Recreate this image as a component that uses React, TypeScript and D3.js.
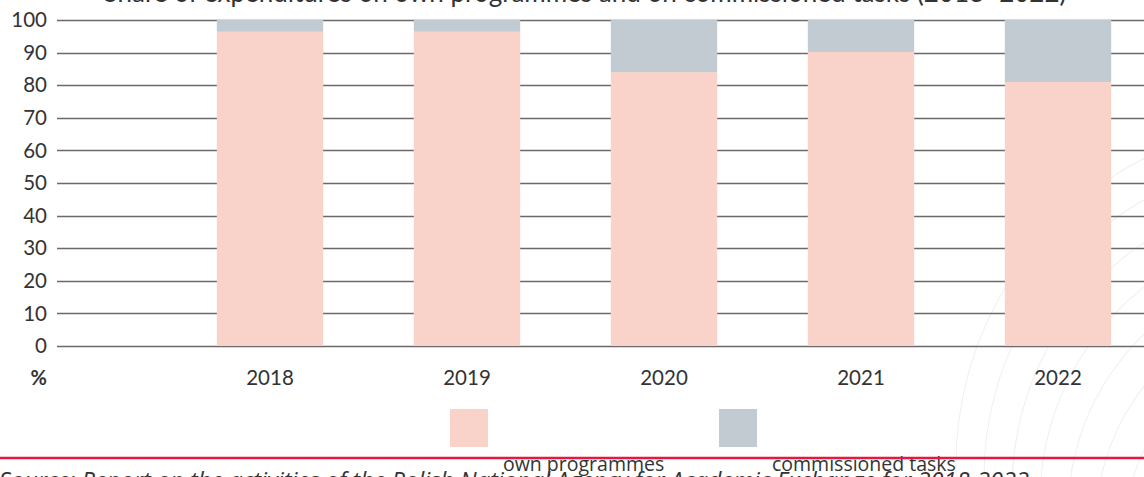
import * as d3 from 'd3';
import { useEffect, useRef } from 'react';

// chart data
const years = ['2018', '2019', '2020', '2021', '2022'];
const ownProgrammes = [96.4, 96.4, 84.0, 90.2, 81.0];
const commissionedTasks = [3.6, 3.6, 16.0, 9.8, 19.0];
const seriesNames = ['own programmes', 'commissioned tasks'];
const seriesColors = ['#f9d3ca', '#c1cbd1'];
const yTicks = [0, 10, 20, 30, 40, 50, 60, 70, 80, 90, 100];

const title = 'Share of expenditures on own programmes and on commissioned tasks (2018–2022)';
const source = 'Source: Report on the activities of the Polish National Agency for Academic Exchange for 2018-2022';

const W = 1144;
const H = 477;

const App = () => {
  const svgRef = useRef<SVGSVGElement>(null);

  useEffect(() => {
    const svg = d3.select(svgRef.current);
    svg.selectAll('*').remove();

    // faint background contour decoration on the right
    const deco = svg.append('g').attr('fill', 'none').attr('stroke', '#efefef').attr('stroke-width', 1);
    d3.range(7).forEach(i => {
      const r = 200 + i * 24;
      deco.append('path')
        .attr('d', d3.arc()({ innerRadius: r, outerRadius: r, startAngle: Math.PI * 0.05, endAngle: Math.PI * 0.95 }) as string)
        .attr('transform', `translate(${W + 180 - i * 4},${H + 60 - i * 12}) rotate(-165)`);
    });

    // title (cut at the top edge)
    svg.append('text')
      .attr('x', 585)
      .attr('y', 2)
      .attr('text-anchor', 'middle')
      .attr('font-family', 'Lato')
      .attr('font-size', 26)
      .attr('fill', '#333')
      .text(title);

    const y = d3.scaleLinear().domain([0, 100]).range([346, 20]);
    const x = d3.scaleBand<string>()
      .domain(years)
      .range([171.5, 1156.5])
      .paddingInner(0.46)
      .paddingOuter(0.23);

    // gridlines
    svg.append('g')
      .selectAll('line')
      .data(yTicks)
      .enter()
      .append('line')
      .attr('x1', 57)
      .attr('x2', W)
      .attr('y1', d => Math.round(y(d)) + 0.5)
      .attr('y2', d => Math.round(y(d)) + 0.5)
      .attr('stroke', '#6a6a6a')
      .attr('stroke-width', 1.5);

    // y tick labels
    svg.append('g')
      .selectAll('text')
      .data(yTicks)
      .enter()
      .append('text')
      .attr('x', 47)
      .attr('y', d => y(d))
      .attr('dy', '0.35em')
      .attr('text-anchor', 'end')
      .attr('font-family', 'Lato')
      .attr('font-size', 20.5)
      .attr('fill', '#333')
      .text(d => d);

    svg.append('text')
      .attr('x', 47)
      .attr('y', 385)
      .attr('text-anchor', 'end')
      .attr('font-family', 'Lato')
      .attr('font-weight', 'bold')
      .attr('font-size', 20)
      .attr('fill', '#333')
      .text('%');

    // stacked bars
    const rows = years.map((yr, i) => ({ year: yr, own: ownProgrammes[i], comm: commissionedTasks[i] }));
    const stack = d3.stack<any>().keys(['own', 'comm']);
    const layers = stack(rows);

    svg.append('g')
      .selectAll('g')
      .data(layers)
      .enter()
      .append('g')
      .attr('fill', (_, i) => seriesColors[i])
      .selectAll('rect')
      .data(d => d)
      .enter()
      .append('rect')
      .attr('x', d => x(d.data.year) as number)
      .attr('width', x.bandwidth())
      .attr('y', d => y(d[1]))
      .attr('height', d => y(d[0]) - y(d[1]));

    // x labels
    svg.append('g')
      .selectAll('text')
      .data(years)
      .enter()
      .append('text')
      .attr('x', d => (x(d) as number) + x.bandwidth() / 2)
      .attr('y', 385)
      .attr('text-anchor', 'middle')
      .attr('font-family', 'Lato')
      .attr('font-size', 20.5)
      .attr('fill', '#333')
      .text(d => d);

    // legend
    const legendX = [450, 719];
    const legend = svg.append('g')
      .selectAll('g')
      .data(seriesNames)
      .enter()
      .append('g')
      .attr('transform', (_, i) => `translate(${legendX[i]},409)`);

    legend.append('rect')
      .attr('width', 38)
      .attr('height', 38)
      .attr('fill', (_, i) => seriesColors[i]);

    // red rule
    svg.append('line')
      .attr('x1', 0)
      .attr('x2', W)
      .attr('y1', 458)
      .attr('y2', 458)
      .attr('stroke', '#e8173f')
      .attr('stroke-width', 2.5);

    // source note (cut at the bottom edge)
    svg.append('text')
      .attr('x', -1)
      .attr('y', 488.5)
      .attr('font-family', 'Open Sans')
      .attr('font-style', 'italic')
      .attr('font-size', 23.6)
      .attr('fill', '#333')
      .text(source);

    legend.append('text')
      .attr('x', 53)
      .attr('y', 62)
      .attr('font-family', 'Open Sans')
      .attr('font-size', 19.5)
      .attr('fill', '#333')
      .text(d => d);
  }, []);

  return (
    <svg
      ref={svgRef}
      width={W}
      height={H}
      style={{ position: 'fixed', left: 0, top: 0, background: '#fff' }}
    />
  );
};

export default App;
